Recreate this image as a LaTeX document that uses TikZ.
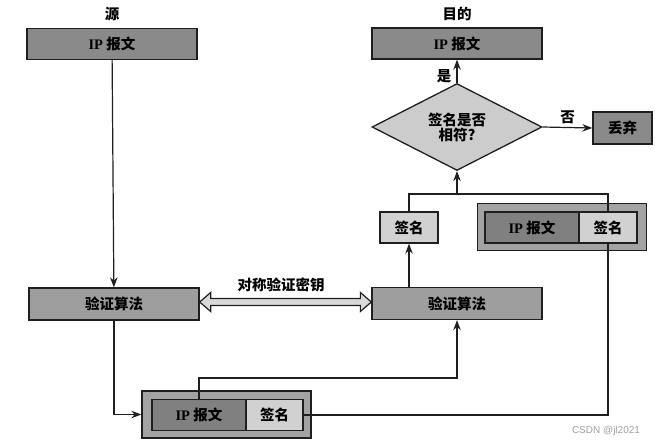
\documentclass[tikz,border=0pt]{standalone}
\usepackage{fontspec}
\setmainfont{Liberation Serif}
\newfontfamily\zh{Noto Sans CJK SC}
\newfontfamily\wmfont{Liberation Sans}
\usetikzlibrary{shapes.geometric,arrows.meta,calc}
\definecolor{cTop}{gray}{0.54}
\definecolor{cDrop}{gray}{0.54}
\definecolor{cAlg}{gray}{0.62}
\definecolor{cSig}{gray}{0.82}
\definecolor{cDia}{gray}{0.80}
\definecolor{cInner}{gray}{0.50}
\definecolor{cFrame}{gray}{0.64}
\definecolor{cLine}{gray}{0.12}
\definecolor{cKey}{gray}{0.85}
\tikzset{
  txt/.style={font=\zh\bfseries\fontsize{14.5}{17}\selectfont},
  box/.style={txt, draw=cLine, line width=1.3pt, inner sep=0pt, rectangle},
  ipbox/.style={box, fill=cTop, minimum width=170, minimum height=31},
  dropbox/.style={box, fill=cDrop, minimum width=59, minimum height=32},
  algbox/.style={box, fill=cAlg, minimum width=170, minimum height=32},
  sigbox/.style={box, fill=cSig, minimum width=57, minimum height=31},
  innerip/.style={box, fill=cInner, minimum width=94, minimum height=31},
  pframe/.style={draw=cLine, line width=1.3pt, fill=cFrame, inner sep=0pt, minimum width=169, minimum height=47},
  dia/.style={txt, diamond, draw=cLine, line width=1.3pt, fill=cDia, inner sep=0pt, minimum width=170, minimum height=68, align=center},
  lab/.style={txt, inner sep=1pt},
  conn/.style={draw=cLine, line width=1.2pt},
  arr/.style={conn, -{Stealth[length=10pt,width=7.5pt]}},
}
\newcommand{\ipt}{{\rmfamily\bfseries IP} 报文}
\begin{document}
\begin{tikzpicture}[x=1pt,y=-1pt]
\useasboundingbox (0,0) rectangle (667,445);
% nodes
\node[lab] (sL) at (112,14) {源};
\node[ipbox] (sIP) at (112,44) {\ipt};
\node[lab] (dL) at (457,14) {目的};
\node[ipbox] (dIP) at (457,43.5) {\ipt};
\node[dia] (cmp) at (457,127) {签名是否\\[-2pt]相符?};
\node[dropbox] (drop) at (622.5,128) {丢弃};
\node[sigbox, minimum width=58] (sig) at (409,227.5) {签名};
\node[pframe] (rP) at (562,227) {};
\node[innerip] (rPi) at (532,227.5) {\ipt};
\node[sigbox, minimum width=58] (rPs) at (608,227.5) {签名};
\node[algbox] (lA) at (114,304) {验证算法};
\node[algbox] (rA) at (457,303.5) {验证算法};
\node[lab] (kL) at (281,285) {对称验证密钥};
\node[pframe] (bP) at (226.5,414.5) {};
\node[innerip] (bIP) at (199,415) {\ipt};
\node[sigbox] (bSig) at (274.5,415) {签名};
\node[font=\wmfont\fontsize{10}{12}\selectfont, text=gray!75, inner sep=0pt] (wm) at (606,431) {CSDN @jl2021};
% key double arrow
\coordinate (kl) at ($(lA.east)+(0,-2)$);
\coordinate (kr) at ($(rA.west)+(0,-1.5)$);
\draw[cLine, line width=1.2pt, fill=cKey, line join=miter]
  (kl) -- ++(11,-9.5) -- ++(0,6) -- ($(kr)+(-11,-3.5)$) -- ++(0,-6) -- (kr)
  -- ++(-11,9.5) -- ++(0,-6) -- ($(kl)+(11,3.5)$) -- ++(0,6) -- cycle;
% connectors
\draw[arr] (sIP) -- (lA);
\draw[arr] (lA.south) |- (bP.west);
\coordinate (j1) at (457,378);
\draw[arr] (bIP.north) |- (j1) -- (rA.south);
\draw[conn] (bSig.east) -| (rPs.south);
\coordinate (j2) at (457,194);
\draw[conn] (rPs.north) |- (sig.north |- j2) -- (sig.north);
\draw[arr] (j2) -- (cmp.south);
\draw[arr] (sig.south |- rA.north) -- (sig.south);
\draw[arr] (cmp.north) -- (dIP.south) node[lab, pos=0.3, left=4pt] {是};
\draw[arr] (cmp.east) -- (drop.west) node[lab, midway, above=2pt] {否};
\end{tikzpicture}
\end{document}
